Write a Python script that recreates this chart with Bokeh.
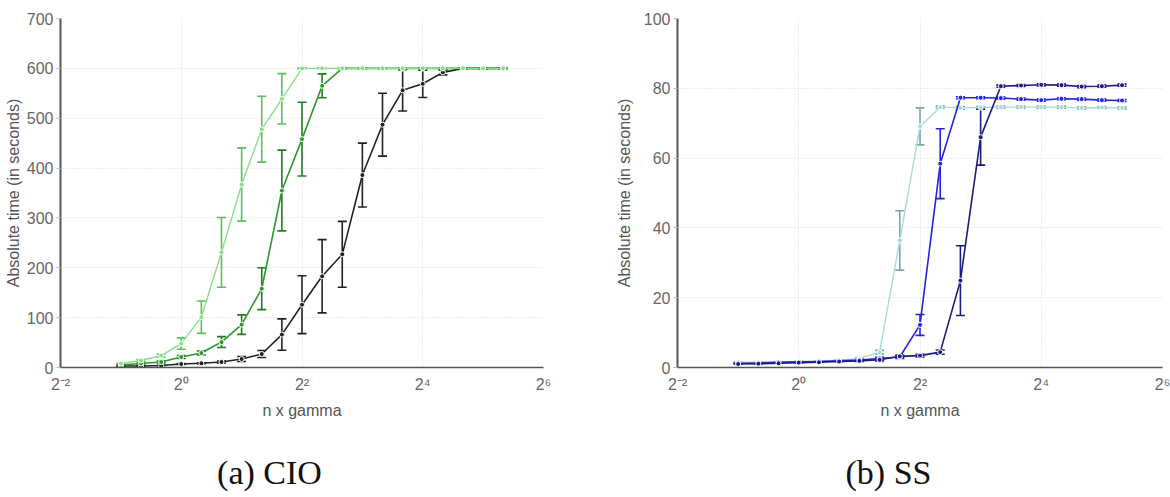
from bokeh.plotting import figure
from bokeh.models import (FixedTicker, ColumnDataSource, Whisker, TeeHead, Range1d,
                          LinearAxis, LinearScale)
from bokeh.layouts import row
from bokeh.embed import file_html
from bokeh.resources import INLINE

# ---------------- data ----------------
x_vals = [0.5, 0.63, 0.794, 1.0, 1.26, 1.587, 2.0, 2.52, 3.175, 4.0,
          5.04, 6.35, 8.0, 10.08, 12.7, 16.0, 20.16, 25.4, 32.0, 40.3]
x_ticks = [0.25, 1, 4, 16, 64]
x_tick_labels = ["2⁻²", "2⁰", "2²", "2⁴", "2⁶"]

# (a) CIO
cio_light = [8, 14, 24, 48, 101, 231, 367, 478, 539, 600,
             600, 600, 600, 600, 600, 600, 600, 600, 600, 600]
cio_light_err = [0, 2, 3, 11.5, 32.5, 70, 73.5, 66, 50.5, 0,
                 0, 0, 0, 0, 0, 0, 0, 0, 0, 0]
cio_mid = [5, 8, 11, 21, 29, 51, 86, 158, 355, 458,
           565, 600, 600, 600, 600, 600, 600, 600, 600, 600]
cio_mid_err = [0, 1, 2, 3, 4, 11, 19.5, 42, 81, 74,
               24, 0, 0, 0, 0, 0, 0, 0, 0, 0]
cio_dark = [3, 3, 4, 7, 8.5, 11, 17, 27, 66, 126,
            183, 227, 386, 487, 556, 569, 592, 600, 600, 600]
cio_dark_err = [0, 0, 0, 1, 1, 2, 5, 7, 31.5, 58,
                73.5, 66, 64, 63, 41.5, 27.5, 5, 0, 0, 0]
cio_yticks = [0, 100, 200, 300, 400, 500, 600, 700]

# (b) SS
ss_light = [1.5, 1.5, 1.6, 1.7, 1.9, 2.1, 2.6, 4.4, 36.4, 69.1,
            74.6, 74.4, 74.5, 74.6, 74.6, 74.6, 74.6, 74.4, 74.5, 74.4]
ss_light_err = [0, 0, 0, 0, 0, 0, 0.2, 0.5, 8.5, 5.3,
                0.3, 0.4, 0.3, 0.3, 0.3, 0.3, 0.3, 0.3, 0.3, 0.3]
ss_mid = [1.2, 1.3, 1.5, 1.6, 1.7, 1.9, 2.1, 2.6, 3.0, 12.2,
          58.4, 77.3, 77.3, 77.2, 76.9, 76.6, 77.0, 76.9, 76.6, 76.5]
ss_mid_err = [0, 0, 0, 0, 0, 0, 0.2, 0.3, 0.4, 3.0,
              10.0, 0.3, 0.3, 0.3, 0.3, 0.3, 0.3, 0.3, 0.3, 0.3]
ss_dark = [1.0, 1.1, 1.2, 1.4, 1.5, 1.7, 1.9, 2.2, 3.2, 3.4,
           4.4, 24.9, 66.0, 80.6, 80.8, 81.0, 80.9, 80.5, 80.6, 80.9]
ss_dark_err = [0, 0, 0, 0, 0, 0, 0.2, 0.3, 0.3, 0.4,
               0.6, 10.0, 8.0, 0.3, 0.3, 0.3, 0.3, 0.3, 0.3, 0.3]
ss_yticks = [0, 20, 40, 60, 80, 100]

FONT = "Liberation Sans"


def make_fig(ymax, yticks, min_left, min_right, label_standoff):
    p = figure(width=585, height=497, x_axis_type="log",
               x_range=Range1d(0.25, 64), y_range=Range1d(0, ymax),
               output_backend="svg", toolbar_location=None,
               min_border_left=min_left, min_border_right=min_right,
               min_border_top=18, min_border_bottom=130)
    p.outline_line_color = None
    p.background_fill_color = "white"
    p.border_fill_color = "white"

    p.xaxis.ticker = FixedTicker(ticks=x_ticks)
    p.xaxis.major_label_overrides = {float(t): l for t, l in zip(x_ticks, x_tick_labels)}
    p.yaxis.ticker = FixedTicker(ticks=yticks)

    p.xaxis.axis_label = "n x gamma"
    p.yaxis.axis_label = "Absolute time (in seconds)"
    for ax in (p.xaxis, p.yaxis):
        ax.axis_label_text_font = FONT
        ax.axis_label_text_font_size = "16px"
        ax.axis_label_text_font_style = "normal"
        ax.axis_label_text_color = "#555555"
        ax.major_label_text_font = FONT
        ax.major_label_text_font_size = "16px"
        ax.major_label_text_color = "#666666"
        ax.minor_tick_line_color = None
        ax.axis_line_color = "#555555"
    p.yaxis.axis_line_width = 2
    p.xaxis.axis_line_width = 1.5
    p.yaxis.major_tick_out = 4
    p.yaxis.major_tick_in = 0
    p.yaxis.major_tick_line_color = "#bbbbbb"
    p.yaxis.major_label_standoff = 3
    p.yaxis.axis_label_standoff = label_standoff
    p.xaxis.major_tick_out = 0
    p.xaxis.major_tick_in = 0
    p.xaxis.major_label_standoff = 8
    p.xaxis.axis_label_standoff = 6

    p.xgrid.grid_line_color = "#d8d8d8"
    p.ygrid.grid_line_color = "#d8d8d8"
    p.xgrid.grid_line_dash = "1 2"
    p.ygrid.grid_line_dash = "1 2"
    return p


def add_series(p, ys, errs, color, bar_color, lw=1.6):
    lower = [y - e for y, e in zip(ys, errs)]
    upper = [y + e for y, e in zip(ys, errs)]
    src = ColumnDataSource(dict(x=x_vals, y=ys, lower=lower, upper=upper))
    p.line("x", "y", source=src, line_color=color, line_width=lw)
    w = Whisker(source=src, base="x", upper="upper", lower="lower",
                dimension="height", line_color=bar_color, line_width=1.6,
                upper_head=TeeHead(size=9, line_color=bar_color, line_width=1.6),
                lower_head=TeeHead(size=9, line_color=bar_color, line_width=1.6))
    p.add_layout(w)
    p.scatter("x", "y", source=src, marker="circle", size=5,
              fill_color=color, line_color="white", line_width=1)


def add_caption(p, text, frame_w, center):
    # caption placed as a single tick label on a pixel-scaled extra axis below
    p.extra_x_ranges = {"cap": Range1d(0, frame_w)}
    p.extra_x_scales = {"cap": LinearScale()}
    ax = LinearAxis(x_range_name="cap", ticker=FixedTicker(ticks=[center]),
                    major_label_overrides={float(center): text},
                    axis_line_color=None, major_tick_line_color=None,
                    minor_tick_line_color=None, major_tick_out=0, major_tick_in=0,
                    major_label_standoff=32,
                    major_label_text_font="Liberation Serif",
                    major_label_text_font_size="34px",
                    major_label_text_color="#111111")
    p.add_layout(ax, "below")


# (a) CIO
p1 = make_fig(700, cio_yticks, 60, 42, 2)
add_series(p1, cio_dark, cio_dark_err, "#222222", "#222222")
add_series(p1, cio_mid, cio_mid_err, "#2a9a2a", "#1f7f1f")
add_series(p1, cio_light, cio_light_err, "#86e086", "#5cbf5c", lw=1.4)
add_caption(p1, "(a) CIO", 483, 209)

# (b) SS
p2 = make_fig(100, ss_yticks, 92, 8, 8)
add_series(p2, ss_light, ss_light_err, "#a6dada", "#7aa8a8", lw=1.4)
add_series(p2, ss_mid, ss_mid_err, "#2323e0", "#2323e0")
add_series(p2, ss_dark, ss_dark_err, "#1c1c80", "#1c1c80")
add_caption(p2, "(b) SS", 485, 211)

layout = row(p1, p2)
open("out.html", "w").write(file_html(layout, INLINE))
